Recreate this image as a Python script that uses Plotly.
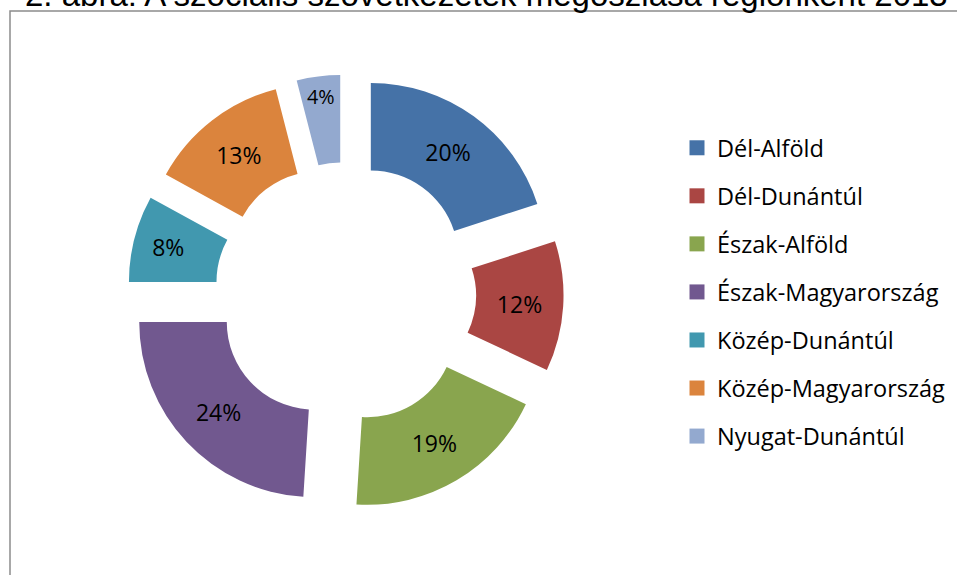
import plotly.graph_objects as go

regions = ["Dél-Alföld", "Dél-Dunántúl", "Észak-Alföld", "Észak-Magyarország",
           "Közép-Dunántúl", "Közép-Magyarország", "Nyugat-Dunántúl"]
shares = [20, 12, 19, 24, 8, 13, 4]
colors = ["#4572A7", "#AA4643", "#89A54E", "#71588F", "#4198AF", "#DB843D", "#93A9CF"]
title_text = "2. ábra: A szociális szövetkezetek megoszlása régiónként 2013"

W, H = 957, 575
fig = go.Figure()

fig.add_trace(go.Pie(
    labels=regions, values=shares, sort=False, direction="clockwise", rotation=0,
    hole=0.5, pull=[0.245] * len(shares),
    marker=dict(colors=colors, line=dict(width=0)),
    texttemplate="%{percent:.0%}", textposition="inside",
    insidetextorientation="horizontal",
    textfont=dict(family="Open Sans", size=23, color="black"),
    domain=dict(x=[127.6 / W, 563.6 / W], y=[(H - 510.7) / H, (H - 74.7) / H]),
    showlegend=False, hoverinfo="label+percent",
))

for name, col in zip(regions, colors):
    fig.add_trace(go.Scatter(
        x=[None], y=[None], mode="markers", name=name, legendgroup=name,
        marker=dict(symbol="square", size=15, color=col),
        showlegend=True,
    ))

fig.update_layout(
    width=W, height=H, margin=dict(l=0, r=0, t=0, b=0),
    paper_bgcolor="white", plot_bgcolor="white",
    xaxis=dict(visible=False), yaxis=dict(visible=False),
    legend=dict(x=677 / W, y=(H - 126) / H, xanchor="left", yanchor="top",
                font=dict(family="Open Sans", size=23.5, color="black"),
                tracegroupgap=14.5, bgcolor="rgba(0,0,0,0)"),
    shapes=[dict(type="rect", xref="paper", yref="paper",
                 x0=10 / W, x1=1.02, y0=-0.02, y1=(H - 11) / H,
                 line=dict(color="#8c8c8c", width=1.5), fillcolor="rgba(0,0,0,0)")],
    annotations=[dict(text=title_text, xref="paper", yref="paper",
                      x=23 / W, y=(H - 15) / H, xanchor="left", yanchor="bottom",
                      showarrow=False,
                      font=dict(family="Liberation Sans", size=33, color="black"))],
)

fig.write_html("out.html", config={"displayModeBar": False},
               post_script="document.body.style.margin='0';")
